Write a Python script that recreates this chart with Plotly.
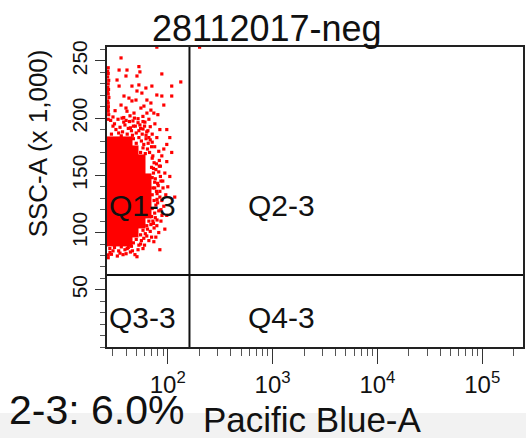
import math
import plotly.graph_objects as go

# ---------------- data ----------------
title_text = "28112017-neg"
x_label = "Pacific Blue-A"
y_label = "SSC-A (x 1,000)"
stat_text = "2-3: 6.0%"
quad_labels = ["Q1-3", "Q2-3", "Q3-3", "Q4-3"]

# quadrant gate position
gate_pb = 161.0      # Pacific Blue-A
gate_ssc = 63.0      # SSC-A (x1000)

# axis ranges (data units)
pb_min, pb_max = 26.3, 245000.0
ssc_max = 262.144

x_tick_values = [100, 1000, 10000, 100000]
x_tick_labels = ["10<sup>2</sup>", "10<sup>3</sup>", "10<sup>4</sup>", "10<sup>5</sup>"]
y_tick_values = [50, 100, 150, 200, 250]

# dense core of the population: density grid (1 = saturated red, None = empty)
pb_bin_edges = [26, 30, 35, 40, 46, 53, 61, 70]
ssc_bin_edges = [88, 96, 104, 112, 120, 128, 136, 144, 152, 160, 168, 176, 184]
dense_grid = [
    [1, 1, 1, 1, None, None, None],
    [1, 1, 1, 1, 1, None, None],
    [1, 1, 1, 1, 1, 1, None],
    [1, 1, 1, 1, 1, 1, 1],
    [1, 1, 1, 1, 1, 1, 1],
    [1, 1, 1, 1, 1, 1, 1],
    [1, 1, 1, 1, 1, 1, 1],
    [1, 1, 1, 1, 1, 1, 1],
    [1, 1, 1, 1, 1, 1, None],
    [1, 1, 1, 1, 1, 1, None],
    [1, 1, 1, 1, 1, None, None],
    [1, 1, 1, 1, None, None, None],
]

# individual sparse events (Pacific Blue-A, SSC-A x1000)
pb_events = [
    78.6, 201,
    35.8, 34.3, 40.8, 53.0, 54.2, 87.7, 39.9, 50.8, 32.8, 109, 133, 45.5, 53.0, 61.8, 70.5, 34.3,
    50.8, 56.6, 78.6, 87.7, 109, 38.2, 42.6, 45.5, 49.7, 63.2, 69.0, 91.6, 35.8, 39.9, 55.4, 59.2,
    69.0, 40.8, 47.6, 63.2, 73.6,
    31.4, 30.0, 36.6, 43.6, 52.0, 57.9, 66.0, 80.4, 38.0, 46.5, 54.2, 60.5, 68.0, 75.3, 84.0, 64.6,
    71.0, 78.6, 97.8, 49.0, 58.0, 62.0, 44.0,
    104.5, 97.8, 91.6, 109, 87.7, 97.8, 85.0, 93.7, 104.5, 89.6, 100, 84.0, 95.7, 87.7, 116.5, 91.6,
    82.0, 97.8, 86.0, 78.6, 93.7, 82.0, 76.9, 73.6,
    75.0, 82.0, 72.0, 78.0, 85.0, 80.0, 75.0, 84.0, 80.0, 86.0, 76.0, 74.0, 71.0, 66.0, 73.0, 82.0,
    76.0, 90.0, 79.0, 72.0, 68.0, 88.0,
    28.1, 37.4, 48.6, 50.8, 84.0, 41.0, 45.0, 55.0, 60.0, 66.0, 70.0, 58.0, 33.0, 30.0, 63.0, 52.0, 44.0,
    27.0, 27.0, 27.3, 27.0, 27.2, 27.0, 27.4, 27.0, 27.1, 27.0, 27.3, 27.0, 26.7, 26.7, 26.8, 26.7,
    26.7, 26.8, 27.0, 27.0,
]
ssc_events = [
    262.0, 262.0,
    252.6, 242.0, 242.0, 245.0, 240.4, 238.6, 236.8, 236.8, 233.3, 228.0, 231.6, 228.0, 229.0, 226.3, 228.0, 228.0,
    223.7, 221.9, 220.2, 219.3, 219.3, 219.3, 217.5, 215.0, 215.8, 215.8, 213.2, 211.4, 211.4, 208.8, 208.8, 210.5,
    207.0, 206.0, 204.4, 204.4, 204.4,
    206.5, 201.0, 200.0, 202.0, 199.5, 201.5, 199.0, 203.0, 196.5, 197.5, 194.0, 196.5, 192.5, 195.0, 190.0, 189.0,
    186.0, 183.0, 190.0, 193.0, 190.5, 185.0, 191.5,
    183.0, 177.0, 173.0, 170.0, 167.0, 162.0, 158.0, 152.0, 149.0, 145.0, 140.0, 136.0, 133.0, 128.0, 131.0, 123.0,
    119.0, 115.0, 110.0, 106.0, 103.0, 100.0, 96.0, 92.0,
    175.0, 171.0, 167.0, 160.0, 149.0, 143.0, 139.0, 131.0, 126.0, 120.0, 113.0, 104.0, 179.0, 183.0, 156.0, 153.0,
    147.0, 139.0, 134.0, 110.0, 101.0, 115.0,
    82.5, 80.7, 80.7, 78.9, 85.0, 86.0, 88.0, 90.0, 89.0, 93.0, 96.0, 86.0, 79.5, 84.0, 97.0, 85.0, 83.0,
    244.0, 239.0, 233.0, 230.0, 225.0, 221.0, 218.0, 213.0, 210.0, 206.0, 203.0, 199.0, 241.0, 236.0, 227.0, 223.0,
    215.0, 208.0, 80.5, 78.0,
]

# fringe events around the dense core
pb_fringe = [
    28.5, 31, 33.5, 35, 37, 39, 41, 43, 45, 47, 50, 52, 55, 57, 60, 63, 29, 32, 36, 40, 30, 34, 38, 42, 46, 53, 58, 48,
    47, 50, 53, 56, 59, 62, 65, 68,
    55, 58, 61, 64, 67, 70,
    71, 74, 70, 73, 77, 71, 75, 72, 78, 71, 74, 77, 71, 75, 70, 73, 79, 81, 83, 86, 79, 83,
    63, 66, 69,
    55, 58, 61, 64,
    47, 50, 53, 56, 59,
    28, 31, 34, 36, 39, 42, 29, 35, 40, 46,
]
ssc_fringe = [
    198, 195, 199, 192, 188, 194, 186, 197, 189, 193, 187, 196, 191, 186, 193, 188, 186, 190, 184.5, 198, 193, 187,
    200.5, 191, 185, 189, 197, 200,
    182, 178, 183, 180, 177, 182, 178, 181,
    170, 174, 169, 173, 170, 175,
    165, 161, 157, 152, 155, 148, 144, 139, 136, 133, 128, 124, 121, 117, 114, 108, 111, 141, 158, 145, 129, 163,
    106, 110, 107,
    98, 102, 99, 103,
    91, 94, 89, 93, 95,
    86, 87, 84, 87.5, 85, 87, 81, 82, 81.5, 84,
]

# ---------------- figure ----------------
FONT = "Liberation Sans, Arial, sans-serif"
RED = "#ff0000"

fig = go.Figure()

fig.add_trace(go.Heatmap(
    x=pb_bin_edges, y=ssc_bin_edges, z=dense_grid,
    colorscale=[[0, RED], [1, RED]], zmin=0, zmax=1,
    showscale=False, hoverinfo="skip",
))

marker_style = dict(color=RED, size=3.2, symbol="square", line=dict(width=0))
fig.add_trace(go.Scatter(x=pb_events, y=ssc_events, mode="markers", marker=marker_style,
                         hoverinfo="skip", showlegend=False))
fig.add_trace(go.Scatter(x=pb_fringe, y=ssc_fringe, mode="markers", marker=marker_style,
                         hoverinfo="skip", showlegend=False))

fig.update_xaxes(
    type="log", range=[math.log10(pb_min), math.log10(pb_max)],
    tickvals=x_tick_values, ticktext=x_tick_labels,
    ticks="outside", ticklen=15, tickwidth=1, tickcolor="#333",
    minor=dict(ticks="outside", ticklen=7, tickwidth=1, tickcolor="#555", dtick="D1", showgrid=False),
    showgrid=False, zeroline=False,
    showline=True, mirror=True, linecolor="#222", linewidth=2,
    tickfont=dict(family=FONT, size=24, color="#111"),
)
fig.update_yaxes(
    range=[0, ssc_max], tickvals=y_tick_values, tickangle=-90,
    ticks="outside", ticklen=10, tickwidth=1, tickcolor="#333",
    minor=dict(ticks="outside", ticklen=5, tickwidth=1, tickcolor="#555", dtick=10, showgrid=False),
    showgrid=False, zeroline=False,
    showline=True, mirror=True, linecolor="#222", linewidth=2,
    tickfont=dict(family=FONT, size=21, color="#111"),
)

# quadrant gate lines
fig.add_shape(type="line", xref="x", yref="paper", x0=gate_pb, x1=gate_pb, y0=0, y1=1,
              line=dict(color="#111", width=2))
fig.add_shape(type="line", xref="paper", yref="y", x0=0, x1=1, y0=gate_ssc, y1=gate_ssc,
              line=dict(color="#111", width=2))

# light gray status band at the bottom
fig.add_shape(type="rect", xref="paper", yref="paper", x0=-0.26, x1=1.01, y0=-0.31, y1=-0.22,
              fillcolor="#f2f2f2", line=dict(width=0), layer="below")

ann = []
ann.append(dict(text=title_text, x=0.385, y=1.063, xref="paper", yref="paper",
                showarrow=False, font=dict(family=FONT, size=36, color="#111"),
                xanchor="center", yanchor="middle"))
ann.append(dict(text=y_label, x=-0.165, y=0.68, xref="paper", yref="paper", textangle=-90,
                showarrow=False, font=dict(family=FONT, size=26, color="#111"),
                xanchor="center", yanchor="middle"))
ann.append(dict(text=x_label, x=0.495, y=-0.24, xref="paper", yref="paper",
                showarrow=False, font=dict(family=FONT, size=35, color="#111"),
                xanchor="center", yanchor="middle"))
ann.append(dict(text=stat_text, x=-0.24, y=-0.21, xref="paper", yref="paper",
                showarrow=False, font=dict(family=FONT, size=41, color="#111"),
                xanchor="left", yanchor="middle"))
quad_pos = [(0.0, 0.473), (0.333, 0.473), (0.0, 0.097), (0.333, 0.097)]
for lab, (qx, qy) in zip(quad_labels, quad_pos):
    ann.append(dict(text=lab, x=qx, y=qy, xref="paper", yref="paper",
                    showarrow=False, font=dict(family=FONT, size=30, color="#111"),
                    xanchor="left", yanchor="middle"))

fig.update_layout(
    width=526, height=438,
    margin=dict(l=107, r=1, t=47, b=91),
    paper_bgcolor="white", plot_bgcolor="white",
    showlegend=False, annotations=ann,
)

fig.write_html("out.html")
